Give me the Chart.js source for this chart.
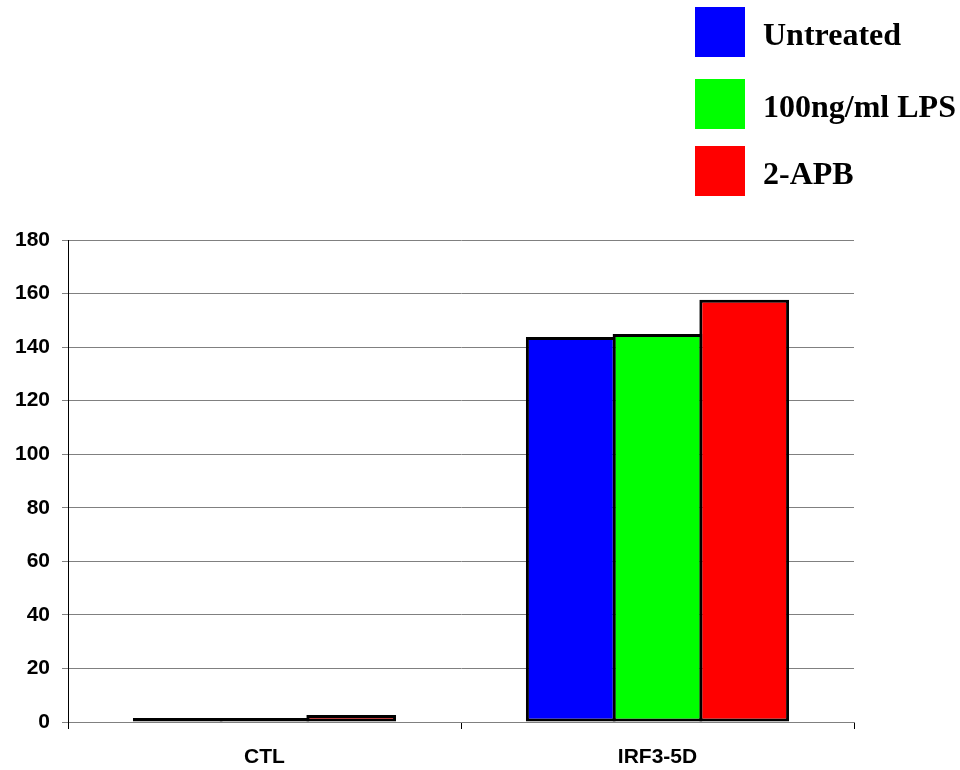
<!DOCTYPE html>
<html>
<head>
<meta charset="utf-8">
<script src="https://cdn.jsdelivr.net/npm/chart.js@4.4.1/dist/chart.umd.min.js"></script>
<style>
  html, body { margin: 0; padding: 0; background: #fff; }
  #wrap { position: relative; width: 960px; height: 770px; }
  #legend { position: absolute; left: 695px; top: 0; width: 265px; font-family: "Liberation Serif", "Times New Roman", serif; font-weight: bold; font-size: 32px; color: #000; }
  .swatch { position: absolute; left: 0; width: 50px; height: 50px; }
  .label { position: absolute; left: 68px; line-height: 1; white-space: nowrap; }
</style>
</head>
<body>
<div id="wrap">
  <canvas id="chart" width="960" height="770"></canvas>
  <div id="legend"></div>
</div>
<script>
// Categories and series
const categories = ['CTL', 'IRF3-5D'];
const seriesNames = ['Untreated', '100ng/ml LPS', '2-APB'];
const untreated = [1.5, 143.8];
const lps = [1.5, 144.9];
const apb = [2.6, 157.7];
const yTicks = [0, 20, 40, 60, 80, 100, 120, 140, 160, 180];

const colors = ['#0000FF', '#00FF00', '#FF0000'];
const seriesValues = [untreated, lps, apb];

const datasets = seriesNames.map((name, i) => ({
  label: name,
  data: seriesValues[i],
  backgroundColor: colors[i],
  borderColor: '#000000',
  borderWidth: 3,
  borderSkipped: false,
  categoryPercentage: 0.662,
  barPercentage: 1.035
}));

// Legend boxes on the top right
const legendEl = document.getElementById('legend');
const swatchTops = [7, 79, 146];
seriesNames.forEach((name, i) => {
  const sw = document.createElement('div');
  sw.className = 'swatch';
  sw.style.top = swatchTops[i] + 'px';
  sw.style.background = colors[i];
  legendEl.appendChild(sw);
  const lb = document.createElement('div');
  lb.className = 'label';
  lb.style.top = (swatchTops[i] + 11) + 'px';
  lb.textContent = name;
  legendEl.appendChild(lb);
});

const tickFont = { family: '"Liberation Sans", Arial, sans-serif', size: 21, weight: 'bold' };

new Chart(document.getElementById('chart'), {
  type: 'bar',
  data: { labels: categories, datasets },
  options: {
    responsive: false,
    animation: false,
    layout: { padding: { top: 240, right: 106, left: 0, bottom: 0 } },
    plugins: { legend: { display: false }, tooltip: { enabled: false } },
    scales: {
      x: {
        grid: { display: true, offset: true, drawOnChartArea: false, drawTicks: true, tickLength: 7, color: '#000000', lineWidth: 1 },
        border: { display: true, color: '#808080', width: 1 },
        ticks: { color: '#000', font: tickFont, padding: 16 },
        afterFit: (s) => { s.height = 48; }
      },
      y: {
        min: 0,
        max: 180,
        afterBuildTicks: (s) => { s.ticks = yTicks.map(v => ({ value: v })); },
        grid: { color: '#808080', lineWidth: 1, tickLength: 6, drawTicks: true },
        border: { display: true, color: '#000000', width: 1 },
        ticks: { color: '#000', font: tickFont, padding: 12 },
        afterFit: (s) => { s.width = 68; }
      }
    }
  }
});
</script>
</body>
</html>
